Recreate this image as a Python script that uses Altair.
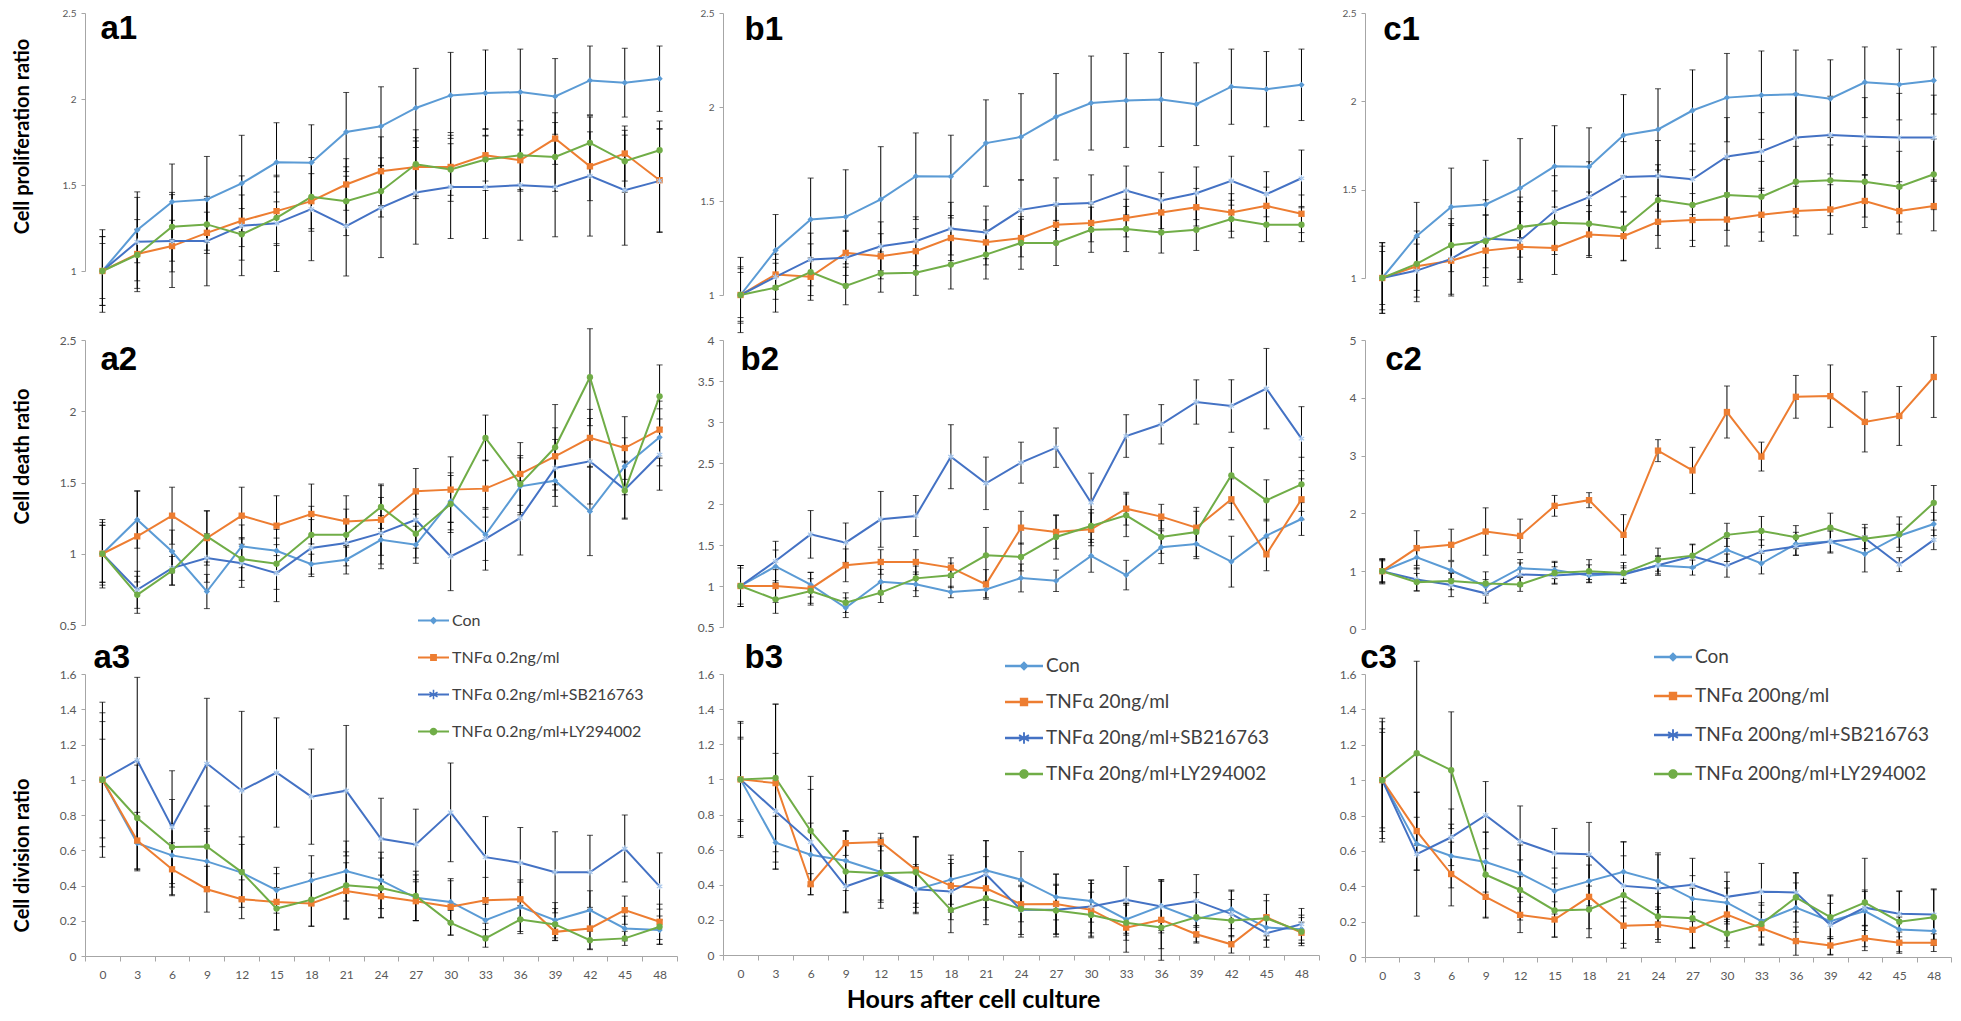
import altair as alt
import pandas as pd

HOURS = list(range(0, 49, 3))

LABELS_A = ["Con", "TNFα 0.2ng/ml", "TNFα 0.2ng/ml+SB216763", "TNFα 0.2ng/ml+LY294002"]
LABELS_B = ["Con", "TNFα 20ng/ml", "TNFα 20ng/ml+SB216763", "TNFα 20ng/ml+LY294002"]
LABELS_C = ["Con", "TNFα 200ng/ml", "TNFα 200ng/ml+SB216763", "TNFα 200ng/ml+LY294002"]

# ---------- Row 1: cell proliferation ratio ----------
CON_1 = [1.0, 1.238, 1.402, 1.416, 1.509, 1.632, 1.630, 1.808, 1.841, 1.948, 2.021, 2.035, 2.040, 2.015, 2.108, 2.095, 2.118]
CON_1_ERR = [0.20, 0.19, 0.22, 0.25, 0.28, 0.23, 0.22, 0.23, 0.23, 0.23, 0.25, 0.25, 0.25, 0.22, 0.20, 0.20, 0.19]
A1_TNF = [1.0, 1.099, 1.145, 1.222, 1.292, 1.348, 1.406, 1.503, 1.580, 1.605, 1.605, 1.673, 1.644, 1.770, 1.609, 1.683, 1.528]
A1_TNF_ERR = [0.24, 0.20, 0.15, 0.12, 0.15, 0.20, 0.16, 0.15, 0.20, 0.17, 0.20, 0.15, 0.18, 0.15, 0.20, 0.16, 0.30]
A1_SB = [1.0, 1.170, 1.174, 1.174, 1.263, 1.277, 1.360, 1.261, 1.368, 1.456, 1.489, 1.489, 1.499, 1.489, 1.553, 1.470, 1.524]
A1_SB_ERR = [0.20, 0.29, 0.27, 0.26, 0.29, 0.28, 0.30, 0.29, 0.29, 0.30, 0.30, 0.30, 0.32, 0.29, 0.35, 0.32, 0.30]
A1_LY = [1.0, 1.093, 1.257, 1.271, 1.213, 1.309, 1.431, 1.406, 1.464, 1.621, 1.590, 1.648, 1.673, 1.663, 1.745, 1.638, 1.702]
A1_LY_ERR = [0.16, 0.15, 0.20, 0.15, 0.15, 0.15, 0.20, 0.20, 0.15, 0.20, 0.15, 0.18, 0.20, 0.20, 0.15, 0.18, 0.17]

B1_TNF = [1.0, 1.109, 1.097, 1.224, 1.206, 1.233, 1.303, 1.280, 1.303, 1.374, 1.383, 1.409, 1.439, 1.467, 1.439, 1.474, 1.432]
B1_TNF_ERR = [0.12, 0.08, 0.10, 0.12, 0.12, 0.12, 0.12, 0.12, 0.10, 0.10, 0.10, 0.10, 0.10, 0.10, 0.10, 0.10, 0.10]
B1_SB = [1.0, 1.097, 1.189, 1.198, 1.259, 1.286, 1.353, 1.333, 1.453, 1.483, 1.489, 1.556, 1.503, 1.541, 1.608, 1.536, 1.621]
B1_SB_ERR = [0.15, 0.12, 0.14, 0.14, 0.13, 0.13, 0.14, 0.14, 0.16, 0.14, 0.15, 0.13, 0.15, 0.14, 0.13, 0.12, 0.15]
B1_LY = [1.0, 1.039, 1.122, 1.048, 1.115, 1.118, 1.162, 1.215, 1.277, 1.277, 1.347, 1.351, 1.333, 1.347, 1.404, 1.374, 1.374]
B1_LY_ERR = [0.14, 0.13, 0.15, 0.10, 0.10, 0.12, 0.13, 0.13, 0.14, 0.12, 0.12, 0.12, 0.11, 0.11, 0.10, 0.09, 0.09]

C1_TNF = [1.0, 1.066, 1.098, 1.155, 1.176, 1.170, 1.246, 1.237, 1.318, 1.328, 1.331, 1.358, 1.379, 1.388, 1.436, 1.379, 1.407]
C1_TNF_ERR = [0.18, 0.20, 0.20, 0.20, 0.20, 0.15, 0.13, 0.14, 0.15, 0.15, 0.15, 0.15, 0.14, 0.14, 0.15, 0.13, 0.14]
C1_SB = [1.0, 1.042, 1.108, 1.223, 1.212, 1.379, 1.458, 1.572, 1.578, 1.559, 1.688, 1.716, 1.795, 1.809, 1.801, 1.795, 1.795]
C1_SB_ERR = [0.20, 0.15, 0.20, 0.22, 0.22, 0.20, 0.20, 0.20, 0.20, 0.20, 0.22, 0.22, 0.25, 0.22, 0.22, 0.25, 0.24]
C1_LY = [1.0, 1.080, 1.186, 1.208, 1.288, 1.313, 1.307, 1.280, 1.441, 1.413, 1.470, 1.460, 1.545, 1.553, 1.545, 1.517, 1.587]
C1_LY_ERR = [0.15, 0.15, 0.15, 0.15, 0.17, 0.18, 0.18, 0.18, 0.20, 0.20, 0.20, 0.20, 0.20, 0.20, 0.20, 0.20, 0.20]

# ---------- Row 2: cell death ratio ----------
CON_2 = [1.0, 1.239, 1.016, 0.735, 1.052, 1.021, 0.927, 0.958, 1.098, 1.063, 1.368, 1.133, 1.473, 1.513, 1.297, 1.614, 1.817]
CON_2_ERR = [0.22, 0.20, 0.15, 0.12, 0.15, 0.15, 0.07, 0.10, 0.17, 0.13, 0.20, 0.18, 0.20, 0.18, 0.31, 0.20, 0.20]
A2_TNF = [1.0, 1.122, 1.267, 1.110, 1.267, 1.197, 1.279, 1.227, 1.239, 1.438, 1.450, 1.457, 1.560, 1.684, 1.813, 1.742, 1.871]
A2_TNF_ERR = [0.20, 0.32, 0.20, 0.19, 0.20, 0.21, 0.21, 0.18, 0.25, 0.16, 0.23, 0.20, 0.22, 0.20, 0.20, 0.22, 0.20]
A2_SB = [1.0, 0.747, 0.899, 0.970, 0.934, 0.864, 1.040, 1.075, 1.145, 1.239, 0.981, 1.105, 1.251, 1.602, 1.649, 1.450, 1.696]
A2_SB_ERR = [0.24, 0.13, 0.12, 0.17, 0.17, 0.20, 0.20, 0.16, 0.25, 0.20, 0.24, 0.22, 0.26, 0.20, 0.30, 0.20, 0.25]
A2_LY = [1.0, 0.712, 0.881, 1.122, 0.963, 0.930, 1.133, 1.133, 1.328, 1.141, 1.349, 1.813, 1.489, 1.747, 2.239, 1.443, 2.105]
A2_LY_ERR = [0.20, 0.13, 0.10, 0.18, 0.15, 0.18, 0.20, 0.18, 0.15, 0.17, 0.20, 0.16, 0.20, 0.30, 0.34, 0.20, 0.22]

B2_TNF = [1.0, 1.0, 0.967, 1.252, 1.293, 1.293, 1.224, 1.020, 1.711, 1.659, 1.691, 1.943, 1.846, 1.711, 2.057, 1.386, 2.057]
B2_TNF_ERR = [0.25, 0.20, 0.20, 0.20, 0.15, 0.15, 0.12, 0.18, 0.20, 0.20, 0.20, 0.20, 0.15, 0.20, 0.25, 0.20, 0.25]
B2_SB = [1.0, 1.305, 1.630, 1.528, 1.813, 1.854, 2.577, 2.252, 2.504, 2.687, 2.016, 2.829, 2.972, 3.244, 3.195, 3.407, 2.797]
B2_SB_ERR = [0.25, 0.24, 0.29, 0.24, 0.34, 0.25, 0.39, 0.32, 0.25, 0.24, 0.36, 0.26, 0.24, 0.27, 0.32, 0.49, 0.39]
B2_LY = [1.0, 0.837, 0.939, 0.797, 0.919, 1.093, 1.130, 1.374, 1.354, 1.598, 1.732, 1.862, 1.598, 1.659, 2.350, 2.045, 2.240]
B2_LY_ERR = [0.25, 0.17, 0.15, 0.12, 0.12, 0.15, 0.15, 0.34, 0.17, 0.27, 0.20, 0.26, 0.20, 0.30, 0.34, 0.25, 0.33]

C2_TNF = [1.0, 1.40, 1.457, 1.686, 1.611, 2.131, 2.229, 1.629, 3.086, 2.743, 3.754, 2.983, 4.017, 4.029, 3.583, 3.686, 4.36]
C2_TNF_ERR = [0.20, 0.30, 0.27, 0.41, 0.29, 0.18, 0.13, 0.35, 0.19, 0.40, 0.45, 0.25, 0.37, 0.54, 0.52, 0.51, 0.70]
C2_SB = [1.0, 0.857, 0.760, 0.617, 0.943, 0.926, 0.960, 0.943, 1.103, 1.257, 1.097, 1.343, 1.429, 1.514, 1.571, 1.114, 1.543]
C2_SB_ERR = [0.18, 0.20, 0.20, 0.17, 0.20, 0.15, 0.15, 0.15, 0.15, 0.20, 0.20, 0.20, 0.15, 0.20, 0.18, 0.12, 0.17]
C2_LY = [1.0, 0.811, 0.829, 0.789, 0.771, 0.971, 1.0, 0.971, 1.2, 1.269, 1.629, 1.697, 1.589, 1.754, 1.56, 1.64, 2.183]
C2_LY_ERR = [0.20, 0.15, 0.15, 0.20, 0.12, 0.18, 0.20, 0.18, 0.20, 0.20, 0.20, 0.25, 0.20, 0.25, 0.25, 0.30, 0.30]

# ---------- Row 3: cell division ratio ----------
CON_3 = [1.0, 0.640, 0.571, 0.537, 0.473, 0.373, 0.429, 0.482, 0.429, 0.330, 0.307, 0.203, 0.279, 0.203, 0.260, 0.156, 0.147]
CON_3_ERR = [0.33, 0.15, 0.18, 0.17, 0.16, 0.13, 0.14, 0.17, 0.16, 0.13, 0.12, 0.09, 0.14, 0.10, 0.11, 0.07, 0.08]
A3_TNF = [1.0, 0.655, 0.492, 0.379, 0.322, 0.307, 0.298, 0.369, 0.339, 0.311, 0.279, 0.316, 0.322, 0.137, 0.156, 0.260, 0.194]
A3_TNF_ERR = [0.38, 0.16, 0.15, 0.13, 0.11, 0.16, 0.13, 0.16, 0.12, 0.11, 0.16, 0.13, 0.11, 0.05, 0.12, 0.08, 0.10]
A3_SB = [1.0, 1.111, 0.731, 1.092, 0.938, 1.041, 0.904, 0.938, 0.665, 0.633, 0.815, 0.561, 0.529, 0.475, 0.475, 0.610, 0.395]
A3_SB_ERR = [0.44, 0.47, 0.32, 0.37, 0.45, 0.31, 0.27, 0.37, 0.23, 0.20, 0.28, 0.23, 0.20, 0.23, 0.21, 0.19, 0.19]
A3_LY = [1.0, 0.783, 0.618, 0.621, 0.476, 0.269, 0.320, 0.401, 0.386, 0.341, 0.188, 0.100, 0.207, 0.179, 0.090, 0.100, 0.166]
A3_LY_ERR = [0.23, 0.30, 0.27, 0.23, 0.20, 0.12, 0.15, 0.19, 0.17, 0.14, 0.07, 0.05, 0.08, 0.09, 0.05, 0.04, 0.10]

B3_TNF = [1.0, 0.979, 0.403, 0.637, 0.643, 0.485, 0.394, 0.380, 0.289, 0.291, 0.257, 0.156, 0.200, 0.118, 0.061, 0.215, 0.127]
B3_TNF_ERR = [0.24, 0.45, 0.06, 0.07, 0.05, 0.19, 0.15, 0.18, 0.10, 0.17, 0.15, 0.14, 0.23, 0.05, 0.05, 0.13, 0.06]
B3_SB = [1.0, 0.818, 0.643, 0.390, 0.460, 0.375, 0.361, 0.460, 0.257, 0.257, 0.276, 0.314, 0.276, 0.308, 0.234, 0.124, 0.175]
B3_SB_ERR = [0.32, 0.33, 0.30, 0.15, 0.16, 0.14, 0.16, 0.19, 0.14, 0.14, 0.15, 0.19, 0.15, 0.15, 0.13, 0.08, 0.09]
B3_LY = [1.0, 1.008, 0.707, 0.475, 0.466, 0.471, 0.257, 0.323, 0.262, 0.253, 0.228, 0.184, 0.156, 0.215, 0.196, 0.209, 0.133]
B3_LY_ERR = [0.23, 0.42, 0.31, 0.23, 0.20, 0.20, 0.13, 0.15, 0.16, 0.15, 0.13, 0.10, 0.12, 0.14, 0.12, 0.10, 0.08]

C3_TNF = [1.0, 0.712, 0.469, 0.340, 0.238, 0.212, 0.340, 0.177, 0.183, 0.154, 0.240, 0.163, 0.090, 0.065, 0.106, 0.081, 0.081]
C3_TNF_ERR = [0.35, 0.22, 0.18, 0.12, 0.10, 0.10, 0.18, 0.10, 0.10, 0.10, 0.15, 0.09, 0.08, 0.05, 0.07, 0.06, 0.05]
C3_SB = [1.0, 0.581, 0.677, 0.802, 0.654, 0.587, 0.581, 0.402, 0.388, 0.408, 0.340, 0.369, 0.365, 0.181, 0.279, 0.244, 0.240]
C3_SB_ERR = [0.29, 0.35, 0.16, 0.19, 0.20, 0.14, 0.18, 0.17, 0.19, 0.15, 0.14, 0.16, 0.11, 0.17, 0.10, 0.13, 0.14]
C3_LY = [1.0, 1.152, 1.056, 0.465, 0.379, 0.263, 0.269, 0.350, 0.229, 0.219, 0.133, 0.187, 0.337, 0.225, 0.308, 0.200, 0.225]
C3_LY_ERR = [0.27, 0.52, 0.33, 0.24, 0.17, 0.15, 0.16, 0.30, 0.13, 0.17, 0.08, 0.12, 0.14, 0.12, 0.25, 0.17, 0.16]

Y_TICKS_1 = [1, 1.5, 2, 2.5]
Y_TICKS_A2 = [0.5, 1, 1.5, 2, 2.5]
Y_TICKS_B2 = [0.5, 1, 1.5, 2, 2.5, 3, 3.5, 4]
Y_TICKS_C2 = [0, 1, 2, 3, 4, 5]
Y_TICKS_3 = [0, 0.2, 0.4, 0.6, 0.8, 1, 1.2, 1.4, 1.6]

# ---------- styling ----------
LINE_COLORS = ["#5B9BD5", "#ED7D31", "#4472C4", "#70AD47"]
MARKER_COLORS = ["#5B9BD5", "#ED7D31", "#A9C8EC", "#70AD47"]
ASTER = ("M-0.18,-1H0.18V1H-0.18Z "
         "M0.776,-0.656L0.956,-0.344L-0.776,0.656L-0.956,0.344Z "
         "M-0.956,-0.344L-0.776,-0.656L0.956,0.344L0.776,0.656Z")
POINT_SHAPES = ["diamond", "square", ASTER, "circle"]
BAR = "M-1,-0.07H1V0.07H-1Z "
LEGEND_PATHS = [
    BAR + "M0,-0.25L0.25,0L0,0.25L-0.25,0Z",
    BAR + "M-0.22,-0.22H0.22V0.22H-0.22Z",
    BAR + ("M-0.05,-0.3H0.05V0.3H-0.05Z "
           "M0.235,-0.193L0.285,-0.107L-0.235,0.193L-0.285,0.107Z "
           "M-0.285,-0.107L-0.235,-0.193L0.285,0.107L0.235,0.193Z"),
    BAR + "M-0.25,0A0.25,0.25 0 1,1 0.25,0A0.25,0.25 0 1,1 -0.25,0Z",
]
FONT = "Lato"
PANEL_FONT = "Liberation Sans, Arial, sans-serif"
AX = "#A6A6A6"
TICK_LABEL = "#595959"


def long_df(labels, vals, errs):
    rows = []
    for lab, vs, es in zip(labels, vals, errs):
        for h, v, e in zip(HOURS, vs, es):
            rows.append({"hour": h, "series": lab, "value": v, "lo": v - e, "hi": v + e})
    return pd.DataFrame(rows)


def panel(df, labels, width, height, ydom, yvals, ylab, title, tdx, tdy,
          ytitle=None, ytitle_y=0, xaxis=False, xtitle=None, legend=None):
    xscale = alt.Scale(type="band", domain=HOURS, paddingInner=0, paddingOuter=0)
    if xaxis:
        xkw = dict(tickBand="extent", labelAngle=0, labelFontSize=12, labelFont=FONT,
                   labelColor=TICK_LABEL, domainColor=AX, tickColor=AX, tickSize=5,
                   labelPadding=8, grid=False, title=None)
        if xtitle:
            xkw.update(title=xtitle, titleX=250, titleY=52, titleAlign="center",
                       titleBaseline="alphabetic", titleFont=FONT, titleFontSize=25,
                       titleFontWeight="bold", titleColor="black")
        xax = alt.Axis(**xkw)
    else:
        xax = None
    X = alt.X("hour:O", scale=xscale, axis=xax)

    ykw = dict(values=yvals, format="~g", labelFontSize=ylab, labelFont=FONT,
               labelColor=TICK_LABEL, domainColor=AX, tickColor=AX, tickSize=4,
               labelPadding=5, grid=False, title=None)
    if ytitle:
        ykw.update(title=ytitle, titleX=-63, titleY=ytitle_y, titleAngle=270,
                   titleAlign="center", titleBaseline="middle", titleFont=FONT,
                   titleFontSize=20, titleFontWeight="bold", titleColor="black")
    yscale = alt.Scale(domain=ydom, nice=False, zero=False)

    def Y(field):
        return alt.Y(field, scale=yscale, axis=alt.Axis(**ykw))

    base = alt.Chart(df)
    bars = base.mark_rule(color="black", strokeWidth=1).encode(x=X, y=Y("lo:Q"), y2="hi:Q")
    cap_lo = base.mark_tick(color="black", thickness=1, size=6, orient="horizontal").encode(x=X, y=Y("lo:Q"))
    cap_hi = base.mark_tick(color="black", thickness=1, size=6, orient="horizontal").encode(x=X, y=Y("hi:Q"))
    line = base.mark_line(strokeWidth=2).encode(
        x=X, y=Y("value:Q"),
        color=alt.Color("series:N", scale=alt.Scale(domain=labels, range=LINE_COLORS), legend=None))
    pts = base.mark_point(filled=True, size=40, opacity=1).encode(
        x=X, y=Y("value:Q"),
        color=alt.Color("series:N", scale=alt.Scale(domain=labels, range=MARKER_COLORS), legend=None),
        shape=alt.Shape("series:N", scale=alt.Scale(domain=labels, range=POINT_SHAPES), legend=None))
    # panel letter, anchored to the first category and the top of the y domain
    lab_df = pd.DataFrame({"hour": [HOURS[0]], "value": [ydom[1]], "label": [title]})
    lab = alt.Chart(lab_df).mark_text(align="left", baseline="alphabetic", dx=tdx, dy=tdy,
                                      fontSize=33, font=PANEL_FONT, fontWeight="bold",
                                      color="black").encode(x=X, y=Y("value:Q"), text="label:N")
    layers = [bars, cap_lo, cap_hi, line, pts, lab]
    if legend:
        lg = alt.Legend(orient="none", legendX=legend["x"], legendY=legend["y"], title=None,
                        direction="vertical", symbolSize=legend["sym"] ** 2, symbolOpacity=1,
                        symbolStrokeWidth=0, labelFont=FONT, labelFontSize=legend["fs"],
                        labelColor="#404040", rowPadding=legend["rp"], labelOffset=3,
                        labelLimit=400, padding=0)
        inv = base.transform_filter(alt.datum.hour == 0).mark_point(filled=True, size=4, opacity=0).encode(
            x=X, y=Y("value:Q"),
            color=alt.Color("series:N", scale=alt.Scale(domain=labels, range=LINE_COLORS), legend=lg),
            shape=alt.Shape("series:N", scale=alt.Scale(domain=labels, range=LEGEND_PATHS), legend=lg))
        layers.append(inv)
    return alt.layer(*layers).resolve_scale(color="independent", shape="independent").properties(
        width=width, height=height)


a1 = panel(long_df(LABELS_A, [CON_1, A1_TNF, A1_SB, A1_LY], [CON_1_ERR, A1_TNF_ERR, A1_SB_ERR, A1_LY_ERR]),
           LABELS_A, 592, 258, [1, 2.5], Y_TICKS_1, 10, "a1", -2, 26,
           ytitle="Cell proliferation ratio", ytitle_y=123)
b1 = panel(long_df(LABELS_B, [CON_1, B1_TNF, B1_SB, B1_LY], [CON_1_ERR, B1_TNF_ERR, B1_SB_ERR, B1_LY_ERR]),
           LABELS_B, 596, 282, [1, 2.5], Y_TICKS_1, 10, "b1", 4, 27)
c1 = panel(long_df(LABELS_C, [CON_1, C1_TNF, C1_SB, C1_LY], [CON_1_ERR, C1_TNF_ERR, C1_SB_ERR, C1_LY_ERR]),
           LABELS_C, 586, 265, [1, 2.5], Y_TICKS_1, 10, "c1", 1, 27)

a2 = panel(long_df(LABELS_A, [CON_2, A2_TNF, A2_SB, A2_LY], [CON_2_ERR, A2_TNF_ERR, A2_SB_ERR, A2_LY_ERR]),
           LABELS_A, 592, 285, [0.5, 2.5], Y_TICKS_A2, 12, "a2", -2, 30,
           ytitle="Cell death ratio", ytitle_y=116,
           legend={"x": 333, "y": 265, "sym": 31, "fs": 16, "rp": 13})
b2 = panel(long_df(LABELS_B, [CON_2, B2_TNF, B2_SB, B2_LY], [CON_2_ERR, B2_TNF_ERR, B2_SB_ERR, B2_LY_ERR]),
           LABELS_B, 596, 287, [0.5, 4], Y_TICKS_B2, 12, "b2", 0, 30,
           legend={"x": 282, "y": 307, "sym": 38, "fs": 19, "rp": 7})
c2 = panel(long_df(LABELS_C, [CON_2, C2_TNF, C2_SB, C2_LY], [CON_2_ERR, C2_TNF_ERR, C2_SB_ERR, C2_LY_ERR]),
           LABELS_C, 586, 289, [0, 5], Y_TICKS_C2, 12, "c2", 3, 30,
           legend={"x": 289, "y": 298, "sym": 38, "fs": 19, "rp": 10})

a3 = panel(long_df(LABELS_A, [CON_3, A3_TNF, A3_SB, A3_LY], [CON_3_ERR, A3_TNF_ERR, A3_SB_ERR, A3_LY_ERR]),
           LABELS_A, 592, 282, [0, 1.6], Y_TICKS_3, 12, "a3", -9, -6,
           ytitle="Cell division ratio", ytitle_y=181, xaxis=True)
b3 = panel(long_df(LABELS_B, [CON_3, B3_TNF, B3_SB, B3_LY], [CON_3_ERR, B3_TNF_ERR, B3_SB_ERR, B3_LY_ERR]),
           LABELS_B, 596, 281, [0, 1.6], Y_TICKS_3, 12, "b3", 4, -6,
           xaxis=True, xtitle="Hours after cell culture")
c3 = panel(long_df(LABELS_C, [CON_3, C3_TNF, C3_SB, C3_LY], [CON_3_ERR, C3_TNF_ERR, C3_SB_ERR, C3_LY_ERR]),
           LABELS_C, 586, 283, [0, 1.6], Y_TICKS_3, 12, "c3", -22, -6, xaxis=True)

chart = alt.concat(a1, b1, c1, a2, b2, c2, a3, b3, c3, columns=3,
                   spacing={"row": 45, "column": 46}, bounds="flush").resolve_scale(
    color="independent", shape="independent").properties(
    padding={"left": 4, "top": 0, "right": 0, "bottom": 0},
    background="white").configure_view(stroke=None)

chart.save("out.html", embed_options={"renderer": "svg", "actions": False})
